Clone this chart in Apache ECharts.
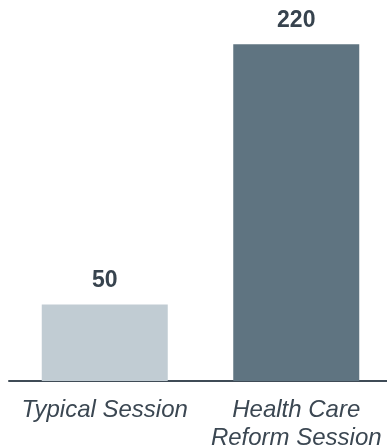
<!DOCTYPE html>
<html>
<head>
    <meta charset="UTF-8">
    <title>Session chart</title>
    <style>
        body,
        html {
            width: 100%;
            height: 100%;
            margin: 0;
            padding: 0;
            background: #fff;
        }
        #myChart {
            width: 387px;
            height: 448px;
        }
    </style>
    <script src="https://cdn.jsdelivr.net/npm/echarts@6/dist/echarts.min.js"></script>
</head>
<body>
    <div id="myChart"></div>
    <script>
        // data
        let categories = ['Typical Session', 'Health Care\nReform Session'];
        let values = [50, 220];
        let barColors = ['#c1ccd3', '#5f7481'];

        let myEcharts = echarts.init(document.querySelector('#myChart'));

        let option = {
            animation: false,
            grid: { left: 9, right: -5, top: 0, bottom: 67, outerBoundsMode: 'none', containLabel: false },
            xAxis: {
                type: 'category',
                data: categories,
                axisTick: { show: false },
                axisLine: { lineStyle: { color: '#3f4b56', width: 2 } },
                axisLabel: {
                    color: '#3b4752',
                    fontFamily: 'Liberation Sans, Arial, sans-serif',
                    fontStyle: 'italic',
                    fontSize: 24,
                    lineHeight: 28,
                    margin: 15,
                    interval: 0
                }
            },
            yAxis: {
                type: 'value',
                min: 0,
                max: 249,
                show: false,
                splitLine: { show: false }
            },
            series: [{
                type: 'bar',
                barWidth: 126,
                data: values.map((v, i) => ({ value: v, itemStyle: { color: barColors[i] } })),
                label: {
                    show: true,
                    position: 'top',
                    distance: 12,
                    color: '#37434e',
                    fontFamily: 'Liberation Sans, Arial, sans-serif',
                    fontWeight: 'bold',
                    fontSize: 23
                }
            }]
        };
        myEcharts.setOption(option, true);
    </script>
</body>
</html>
